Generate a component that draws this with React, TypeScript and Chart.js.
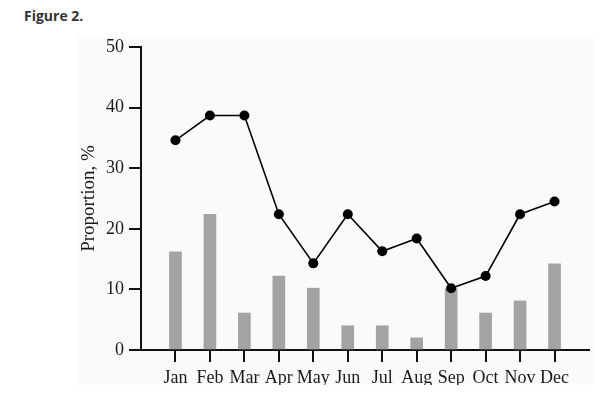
import React, { useEffect, useRef } from "react";
import { Chart, registerables } from "chart.js";

Chart.register(...registerables);

const months = ["Jan", "Feb", "Mar", "Apr", "May", "Jun", "Jul", "Aug", "Sep", "Oct", "Nov", "Dec"];
const barValues = [16.2, 22.4, 6.1, 12.2, 10.2, 4.0, 4.0, 2.0, 10.1, 6.1, 8.1, 14.2];
const lineValues = [34.6, 38.7, 38.7, 22.4, 14.3, 22.4, 16.3, 18.4, 10.2, 12.2, 22.4, 24.5];
const yTicks = [0, 10, 20, 30, 40, 50];

const serif = "'Liberation Serif', 'Times New Roman', serif";

export default function App() {
  const ref = useRef<HTMLCanvasElement>(null);

  useEffect(() => {
    if (!ref.current) return;
    const chart = new Chart(ref.current, {
      type: "bar",
      data: {
        datasets: [
          {
            type: "line",
            data: lineValues.map((v, i) => ({ x: i + 1, y: v })),
            borderColor: "#000",
            backgroundColor: "#000",
            borderWidth: 1.6,
            pointRadius: 5,
            pointBackgroundColor: "#000",
            pointBorderWidth: 0,
            tension: 0,
            order: 0,
          } as any,
          {
            type: "bar",
            data: barValues.map((v, i) => ({ x: i + 1, y: v })),
            backgroundColor: "#a3a3a3",
            barThickness: 12,
            order: 1,
          } as any,
        ],
      },
      options: {
        animation: false,
        responsive: false,
        maintainAspectRatio: false,
        layout: { padding: { top: 0, right: 0, left: 0, bottom: 0 } },
        plugins: { legend: { display: false }, tooltip: { enabled: false }, title: { display: false } },
        scales: {
          x: {
            type: "linear",
            min: 0,
            max: 13,
            offset: false,
            afterBuildTicks: (scale: any) => {
              scale.ticks = months.map((_, i) => ({ value: i + 1 }));
            },
            afterFit: (scale: any) => {
              scale.height = 35;
            },
            ticks: {
              autoSkip: false,
              maxRotation: 0,
              padding: 5,
              color: "#1a1a1a",
              font: { family: serif, size: 18 },
              callback: (v: any) => months[Number(v) - 1] ?? "",
            },
            grid: {
              display: true,
              offset: false,
              drawOnChartArea: false,
              drawTicks: true,
              tickLength: 12,
              color: "#111",
              lineWidth: 2,
            },
            border: { display: true, color: "#111", width: 2 },
          },
          y: {
            type: "linear",
            min: 0,
            max: 50,
            afterBuildTicks: (scale: any) => {
              scale.ticks = yTicks.map((v) => ({ value: v }));
            },
            afterFit: (scale: any) => {
              scale.width = 64;
              scale.paddingTop = 10;
            },
            ticks: {
              padding: 5,
              color: "#1a1a1a",
              font: { family: serif, size: 18 },
            },
            grid: {
              display: true,
              drawOnChartArea: false,
              drawTicks: true,
              tickLength: 12,
              color: "#111",
              lineWidth: 2,
            },
            border: { display: true, color: "#111", width: 2 },
            title: {
              display: true,
              text: "Proportion, %",
              color: "#1a1a1a",
              font: { family: serif, size: 19 },
              padding: { top: 1, bottom: 0 },
            },
          },
        },
      },
    });
    return () => chart.destroy();
  }, []);

  return (
    <div style={{ position: "fixed", left: 0, top: 0, width: 604, height: 393, background: "#fff" }}>
      <div
        style={{
          position: "absolute",
          left: 24,
          top: 6,
          fontFamily: "'Open Sans', sans-serif",
          fontWeight: 700,
          fontSize: 14,
          color: "#333",
        }}
      >
        Figure 2.
      </div>
      <div
        style={{
          position: "absolute",
          left: 77,
          top: 37,
          width: 517,
          height: 348,
          background: "#fafafa",
        }}
      >
        <canvas ref={ref} width={517} height={348} style={{ display: "block", width: 517, height: 348 }} />
      </div>
    </div>
  );
}
